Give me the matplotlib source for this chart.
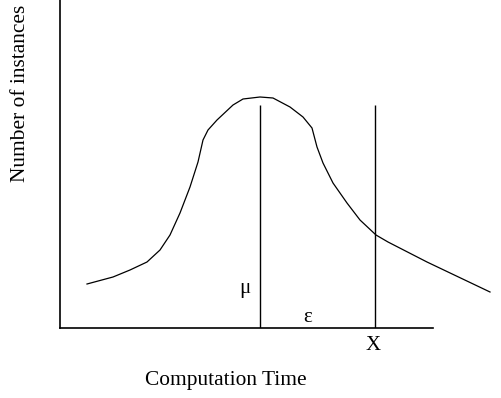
import matplotlib
matplotlib.use('Agg')
import matplotlib.pyplot as plt

plt.rcParams['font.family'] = ['Liberation Serif', 'DejaVu Serif']

# curve (time, number of instances)
time = [27, 53, 70, 87, 100, 110, 120, 130, 138, 143, 148, 157, 173, 183,
        200, 213, 230, 243, 252, 257, 263, 273, 287, 300, 316, 328, 367, 430]
count = [44, 51, 58, 66, 78, 93, 115, 141, 166, 188, 198, 208, 223, 229,
         231, 230, 221, 211, 200, 181, 165, 145, 125, 108, 93, 86, 66, 36]

mu = 200
x_mark = 315
line_top = 223

fig = plt.figure(figsize=(5.01, 3.98), dpi=100)
ax = fig.add_axes([60 / 501, 70 / 398, 373 / 501, 328 / 398])
ax.set_xlim(0, 373)
ax.set_ylim(0, 328)

ax.plot(time, count, color='black', lw=0.9, clip_on=False)
ax.vlines([mu, x_mark], 0, line_top, color='black', lw=1.0)

for s in ['top', 'right']:
    ax.spines[s].set_visible(False)
for s in ['left', 'bottom']:
    ax.spines[s].set_linewidth(1.2)
ax.set_xticks([])
ax.set_yticks([])

ax.text(185, 39, 'μ', fontsize=15, ha='center', va='center')
ax.text(248, 10, 'ε', fontsize=15, ha='center', va='center')
ax.text(313, -17, 'X', fontsize=15, ha='center', va='center')

fig.text(226 / 501, 1 - 381 / 398, 'Computation Time', fontsize=15.4,
         ha='center', va='center')
fig.text(21 / 501, 1 - 93 / 398, 'Number of instances', fontsize=15.4,
         ha='center', va='center', rotation=90)

fig.savefig('out.png', dpi=100)
